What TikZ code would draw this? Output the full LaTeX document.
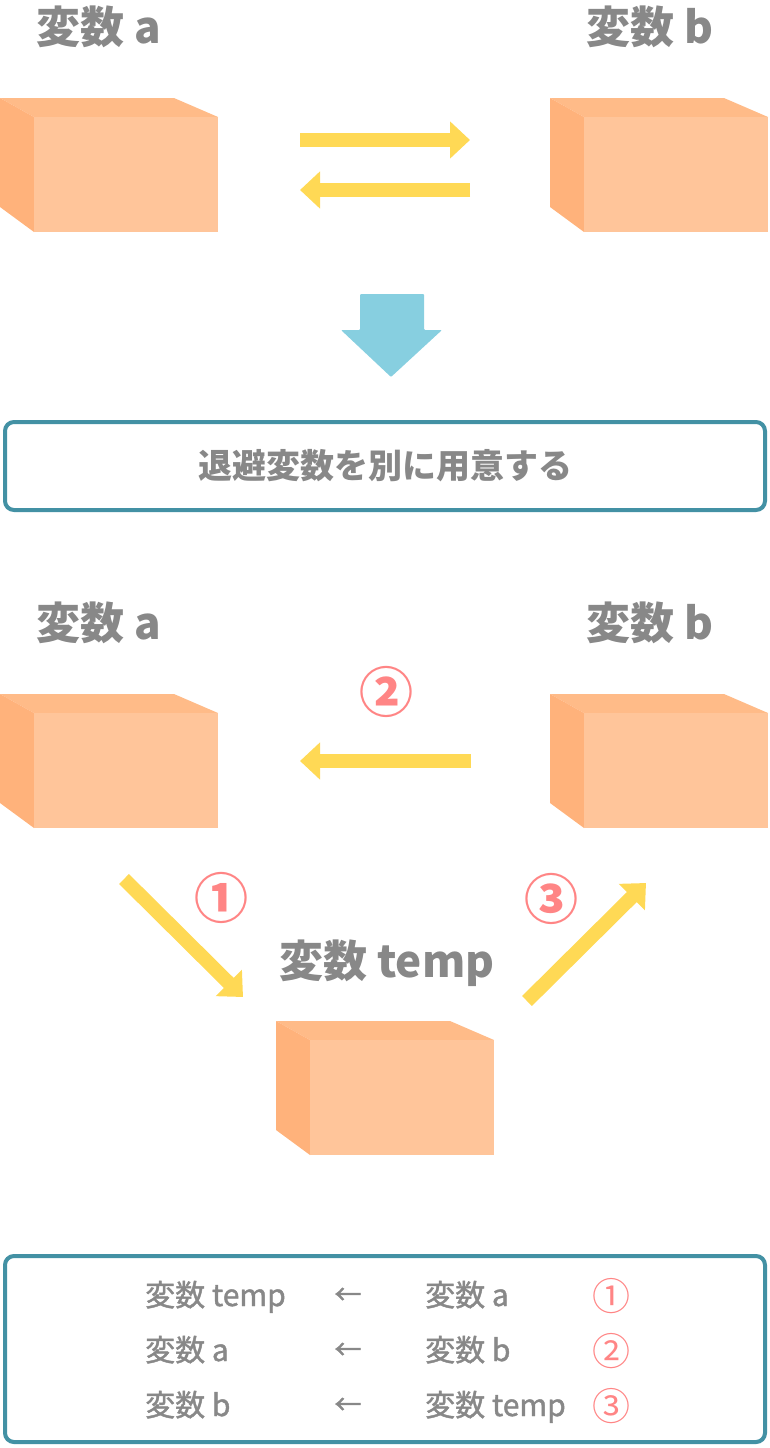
\documentclass[tikz,border=0pt]{standalone}
\usepackage{fontspec}
\newfontfamily\jp{Noto Sans CJK JP}
\newfontfamily\jpmed[FakeBold=1.4]{Noto Sans CJK JP}
\usepackage{tikz}
\usetikzlibrary{arrows.meta}
\usepackage{xcolor}
\definecolor{boxfront}{HTML}{FFC59A}
\definecolor{boxtop}{HTML}{FFBB88}
\definecolor{boxside}{HTML}{FFB27B}
\definecolor{swapyellow}{HTML}{FFD955}
\definecolor{downblue}{HTML}{87CFE0}
\definecolor{panelteal}{HTML}{4391A4}
\definecolor{labelgray}{HTML}{888888}
\definecolor{steppink}{HTML}{FF8585}

\begin{document}
\begin{tikzpicture}[x=1pt,y=-1pt,
		varlabel/.style={anchor=base west,inner sep=0pt,text=labelgray,font=\jp\bfseries\fontsize{44}{50}\selectfont},
		move/.style={draw=swapyellow,line width=14pt,-{Triangle[length=20pt,width=36pt]}},
		stepnum/.style={inner sep=0pt,text=steppink,font=\jp\bfseries\fontsize{54}{54}\selectfont},
		rowtext/.style={anchor=base west,inner sep=0pt,text=labelgray,font=\jpmed\fontsize{30}{32}\selectfont},
		rownum/.style={inner sep=0pt,text=steppink,font=\jp\fontsize{38}{38}\selectfont},
		panel/.style={draw=panelteal,line width=4pt,rounded corners=9pt,minimum width=760pt}]
			\useasboundingbox (0,0) rectangle (770,1448);
			\foreach \X/\Y in {0/98,550/98,0/694,550/694,276/1021} {
				\fill[boxtop] (\X,\Y) -- ++(174,0) -- ++(44,19) -- ++(-184,0) -- cycle;
				\fill[boxside] (\X,\Y) -- ++(34,19) -- ++(0,115) -- ++(-34,-25) -- cycle;
				\fill[boxfront] (\X+34,\Y+19) rectangle ++(184,115);
			}
			\node[varlabel] (labelA) at (36,43) {変数 a};
			\node[varlabel] (labelB) at (586,43) {変数 b};
			\coordinate (fwdS) at (300,140);
			\coordinate (fwdE) at (470,140);
			\coordinate (bwdS) at (470,190);
			\coordinate (bwdE) at (300,190);
			\draw[move] (fwdS) -- (fwdE);
			\draw[move] (bwdS) -- (bwdE);
			\fill[downblue,rounded corners=1pt] (360,294) -- (424,294) -- (424,330) -- (442,330) -- (391,377) -- (341,330) -- (360,330) -- cycle;
			\node[panel,minimum height=88pt,text=labelgray,font=\jp\bfseries\fontsize{34}{40}\selectfont] (idea) at (385,466) {退避変数を別に用意する};
			\node[varlabel] (labelA2) at (36,639) {変数 a};
			\node[varlabel] (labelB2) at (586,639) {変数 b};
			\node[varlabel] (labelT) at (279,977) {変数 temp};
			\coordinate (aOut) at (124,879);
			\coordinate (tIn) at (243,997);
			\coordinate (bOut) at (471,761);
			\coordinate (aIn) at (300,761);
			\coordinate (tOut) at (527,1001);
			\coordinate (bIn) at (646,883);
			\draw[move] (aOut) -- (tIn);
			\draw[move] (bOut) -- (aIn);
			\draw[move] (tOut) -- (bIn);
			\node[stepnum] (one) at (221,898) {①};
			\node[stepnum] (two) at (386,692) {②};
			\node[stepnum] (three) at (551,899) {③};
			\node[panel,minimum height=186pt] (steps) at (385,1349) {};
			\foreach \Y/\L/\R/\N [count=\i] in {1306/temp/a/①,1361/a/b/②,1416/b/temp/③} {
				\node[rowtext] (dst\i) at (145,\Y) {変数 \L};
				\node[rowtext,anchor=center,font=\jpmed\fontsize{27}{27}\selectfont] (gets\i) at (348,\Y-10) {←};
				\node[rowtext] (src\i) at (425,\Y) {変数 \R};
				\node[rownum] (num\i) at (611,\Y-10) {\N};
			}
		\end{tikzpicture}
\end{document}
